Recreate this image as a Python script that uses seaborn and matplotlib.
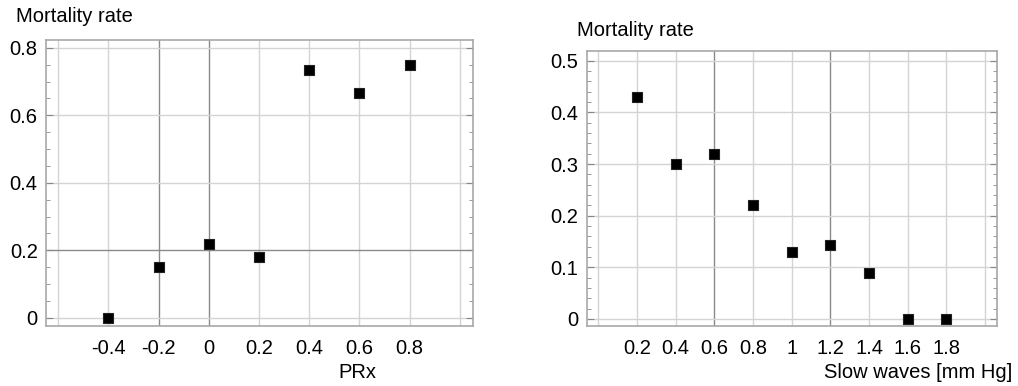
import numpy as np
import pandas as pd
import matplotlib
matplotlib.use("Agg")
import matplotlib.pyplot as plt
import seaborn as sns
from matplotlib.ticker import MultipleLocator

# data
prx = [-0.4, -0.2, 0.0, 0.2, 0.4, 0.6, 0.8]
prx_mortality = [0.0, 0.15, 0.22, 0.18, 0.733, 0.667, 0.75]

slow_waves = [0.2, 0.4, 0.6, 0.8, 1.0, 1.2, 1.4, 1.6, 1.8]
slow_mortality = [0.43, 0.30, 0.32, 0.22, 0.13, 0.143, 0.09, 0.0, 0.0]

prx_ticks = [-0.4, -0.2, 0, 0.2, 0.4, 0.6, 0.8]
prx_tick_labels = ["-0.4", "-0.2", "0", "0.2", "0.4", "0.6", "0.8"]
slow_ticks = [0.2, 0.4, 0.6, 0.8, 1.0, 1.2, 1.4, 1.6, 1.8]
slow_tick_labels = ["0.2", "0.4", "0.6", "0.8", "1", "1.2", "1.4", "1.6", "1.8"]

sns.set_style("white")
plt.rcParams['font.family'] = ['Liberation Sans', 'DejaVu Sans']
plt.rcParams['text.color'] = 'black'
plt.rcParams['xtick.color'] = 'black'
plt.rcParams['ytick.color'] = 'black'

df1 = pd.DataFrame({"x": prx, "y": prx_mortality})
df2 = pd.DataFrame({"x": slow_waves, "y": slow_mortality})

fig = plt.figure(figsize=(10.18, 3.86), dpi=100)
ax1 = fig.add_axes([0.0452, 0.1554, 0.4194, 0.741])
ax2 = fig.add_axes([0.5763, 0.1554, 0.4031, 0.7124])

light = "#d4d4d4"
dark = "#8a8a8a"
fs = 14.5


def style_axes(ax, xgrid, dark_x, ygrid, dark_y, minor):
    for v in xgrid:
        ax.axvline(v, color=dark if v in dark_x else light, lw=1.0, zorder=0)
    for v in ygrid:
        ax.axhline(v, color=dark if v in dark_y else light, lw=1.0, zorder=0)
    for s in ax.spines.values():
        s.set_color("#a8a8a8")
        s.set_linewidth(1.2)
    ax.yaxis.set_minor_locator(MultipleLocator(minor))
    ax.tick_params(axis="y", which="both", direction="in", left=True, right=True,
                   color="#888888", labelcolor="black", labelsize=fs, pad=6)
    ax.tick_params(axis="y", which="major", length=5)
    ax.tick_params(axis="y", which="minor", length=3)
    ax.tick_params(axis="x", length=0, labelcolor="black", labelsize=fs, pad=9)
    ax.set_xlabel("")
    ax.set_ylabel("")


sns.scatterplot(data=df1, x="x", y="y", ax=ax1, marker="s", s=48, color="black",
                edgecolor="#222222", linewidth=0.8, zorder=3)
ax1.set_xlim(-0.648, 1.052)
ax1.set_ylim(-0.024, 0.823)
ax1.set_xticks(prx_ticks)
ax1.set_xticklabels(prx_tick_labels)
ax1.set_yticks([0, 0.2, 0.4, 0.6, 0.8])
ax1.set_yticklabels(["0", "0.2", "0.4", "0.6", "0.8"])
style_axes(ax1, np.round(np.arange(-0.6, 1.01, 0.2), 2), [-0.2, 0.0],
           [0, 0.2, 0.4, 0.6, 0.8], [0.2], 0.05)

sns.scatterplot(data=df2, x="x", y="y", ax=ax2, marker="s", s=48, color="black",
                edgecolor="#222222", linewidth=0.8, zorder=3)
ax2.set_xlim(-0.06, 2.062)
ax2.set_ylim(-0.0136, 0.519)
ax2.set_xticks(slow_ticks)
ax2.set_xticklabels(slow_tick_labels)
ax2.set_yticks([0, 0.1, 0.2, 0.3, 0.4, 0.5])
ax2.set_yticklabels(["0", "0.1", "0.2", "0.3", "0.4", "0.5"])
style_axes(ax2, np.round(np.arange(0, 2.01, 0.2), 2), [0.6, 1.2],
           [0, 0.1, 0.2, 0.3, 0.4, 0.5], [], 0.02)

fig.text(16 / 1018, 1 - 16 / 386, "Mortality rate", fontsize=fs, va="center", ha="left")
fig.text(577 / 1018, 1 - 30 / 386, "Mortality rate", fontsize=fs, va="center", ha="left")
fig.text(357 / 1018, 1 - 372 / 386, "PRx", fontsize=fs, va="center", ha="center")
fig.text(1012 / 1018, 1 - 372 / 386, "Slow waves [mm Hg]", fontsize=fs, va="center", ha="right")

fig.savefig("out.png", dpi=100)
